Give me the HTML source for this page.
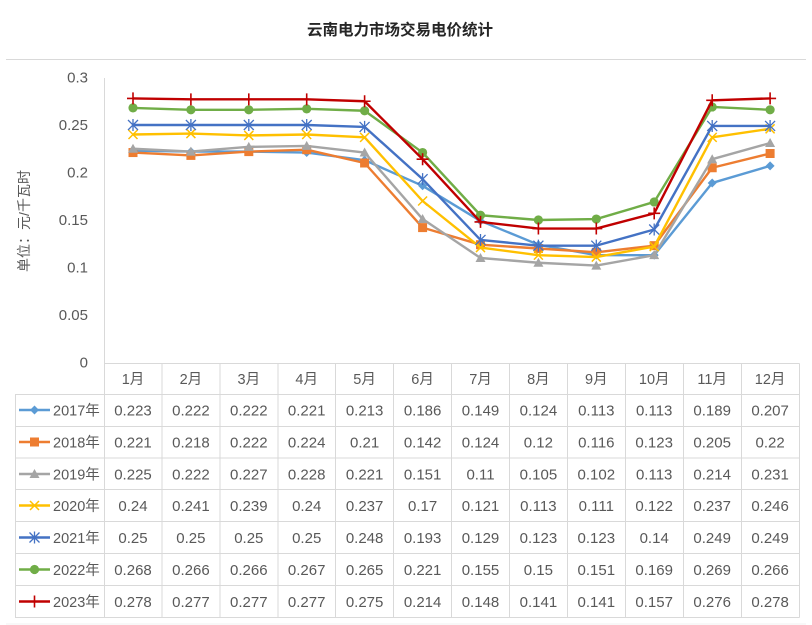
<!DOCTYPE html>
<html>
<head>
<meta charset="utf-8">
<style>
html,body{margin:0;padding:0;background:#fff;}
svg{display:block;}
text{font-family:"Liberation Sans","Noto Sans CJK SC",sans-serif;}
</style>
</head>
<body>
<svg width="812" height="625" viewBox="0 0 812 625" xmlns="http://www.w3.org/2000/svg">
<defs>
  <path id="mDia" d="M0,-4.5 L4.5,0 L0,4.5 L-4.5,0Z" fill="#5B9BD5"/>
  <rect id="mSq" x="-4.5" y="-4.5" width="9" height="9" fill="#ED7D31"/>
  <path id="mTri" d="M0,-5 L5,4 L-5,4Z" fill="#A5A5A5"/>
  <path id="mX" d="M-4.5,-4.5 L4.5,4.5 M4.5,-4.5 L-4.5,4.5" stroke="#FFC000" stroke-width="1.5" fill="none"/>
  <path id="mStar" d="M-5,-5 L5,5 M5,-5 L-5,5 M0,-6 L0,6" stroke="#4472C4" stroke-width="1.3" fill="none"/>
  <circle id="mCir" r="4.6" fill="#70AD47"/>
  <path id="mPlus" d="M0,-6 L0,6 M-6,0 L6,0" stroke="#C00000" stroke-width="1.6" fill="none"/>
</defs>

<rect width="812" height="625" fill="#fff"/>

<!-- title -->
<text x="400" y="35" text-anchor="middle" font-size="15.5" font-weight="bold" fill="#262626">云南电力市场交易电价统计</text>
<line x1="6" y1="59.5" x2="806" y2="59.5" stroke="#d9d9d9" stroke-width="1"/>

<!-- y axis title -->
<text transform="translate(29,221) rotate(-90)" text-anchor="middle" font-size="14" fill="#595959">单位：元/千瓦时</text>

<!-- y tick labels -->
<g font-size="15" fill="#595959" text-anchor="end">
  <text x="88" y="82.5">0.3</text>
  <text x="88" y="130">0.25</text>
  <text x="88" y="177.5">0.2</text>
  <text x="88" y="225">0.15</text>
  <text x="88" y="272.5">0.1</text>
  <text x="88" y="320">0.05</text>
  <text x="88" y="367.5">0</text>
</g>

<!-- axis line -->
<line x1="104.5" y1="78" x2="104.5" y2="617" stroke="#d9d9d9" stroke-width="1"/>

<!-- table grid -->
<g stroke="#d9d9d9" stroke-width="1" fill="none">
  <line x1="104" y1="363.5" x2="799.5" y2="363.5"/>
  <line x1="15" y1="394.5" x2="799.5" y2="394.5"/>
  <line x1="15" y1="426.5" x2="799.5" y2="426.5"/>
  <line x1="15" y1="458" x2="799.5" y2="458"/>
  <line x1="15" y1="489.5" x2="799.5" y2="489.5"/>
  <line x1="15" y1="521.5" x2="799.5" y2="521.5"/>
  <line x1="15" y1="553.5" x2="799.5" y2="553.5"/>
  <line x1="15" y1="585.5" x2="799.5" y2="585.5"/>
  <line x1="15" y1="617.5" x2="799.5" y2="617.5"/>
  <line x1="15.5" y1="394.5" x2="15.5" y2="617.5"/>
  <line x1="162" y1="363.5" x2="162" y2="617.5"/>
  <line x1="220" y1="363.5" x2="220" y2="617.5"/>
  <line x1="278" y1="363.5" x2="278" y2="617.5"/>
  <line x1="335.5" y1="363.5" x2="335.5" y2="617.5"/>
  <line x1="393.5" y1="363.5" x2="393.5" y2="617.5"/>
  <line x1="451.5" y1="363.5" x2="451.5" y2="617.5"/>
  <line x1="509.5" y1="363.5" x2="509.5" y2="617.5"/>
  <line x1="567.5" y1="363.5" x2="567.5" y2="617.5"/>
  <line x1="625.5" y1="363.5" x2="625.5" y2="617.5"/>
  <line x1="683.5" y1="363.5" x2="683.5" y2="617.5"/>
  <line x1="741.5" y1="363.5" x2="741.5" y2="617.5"/>
  <line x1="799.5" y1="363.5" x2="799.5" y2="617.5"/>
</g>
<line x1="6" y1="624" x2="806" y2="624" stroke="#f0f0f0" stroke-width="1"/>

<!-- header -->
<g font-size="14.5" fill="#595959" text-anchor="middle">
  <text x="133" y="384">1月</text>
  <text x="190.9" y="384">2月</text>
  <text x="248.8" y="384">3月</text>
  <text x="306.7" y="384">4月</text>
  <text x="364.6" y="384">5月</text>
  <text x="422.6" y="384">6月</text>
  <text x="480.5" y="384">7月</text>
  <text x="538.4" y="384">8月</text>
  <text x="596.3" y="384">9月</text>
  <text x="654.2" y="384">10月</text>
  <text x="712.2" y="384">11月</text>
  <text x="770.1" y="384">12月</text>
</g>

<!-- series lines -->
<g fill="none" stroke-width="2.4" stroke-linejoin="round">
  <polyline stroke="#5B9BD5" points="133,150.65 190.9,151.6 248.8,151.6 306.7,152.55 364.6,160.15 422.6,185.8 480.5,220.95 538.4,244.7 596.3,255.15 654.2,255.15 712.2,182.95 770.1,165.85"/>
</g>
<g>
  <use href="#mDia" x="133" y="150.65"/><use href="#mDia" x="190.9" y="151.6"/><use href="#mDia" x="248.8" y="151.6"/><use href="#mDia" x="306.7" y="152.55"/><use href="#mDia" x="364.6" y="160.15"/><use href="#mDia" x="422.6" y="185.8"/><use href="#mDia" x="480.5" y="220.95"/><use href="#mDia" x="538.4" y="244.7"/><use href="#mDia" x="596.3" y="255.15"/><use href="#mDia" x="654.2" y="255.15"/><use href="#mDia" x="712.2" y="182.95"/><use href="#mDia" x="770.1" y="165.85"/>
</g>

<polyline fill="none" stroke-width="2.4" stroke-linejoin="round" stroke="#ED7D31" points="133,152.55 190.9,155.4 248.8,151.6 306.7,149.7 364.6,163 422.6,227.6 480.5,244.7 538.4,248.5 596.3,252.3 654.2,245.65 712.2,167.75 770.1,153.5"/>
<g>
  <use href="#mSq" x="133" y="152.55"/><use href="#mSq" x="190.9" y="155.4"/><use href="#mSq" x="248.8" y="151.6"/><use href="#mSq" x="306.7" y="149.7"/><use href="#mSq" x="364.6" y="163"/><use href="#mSq" x="422.6" y="227.6"/><use href="#mSq" x="480.5" y="244.7"/><use href="#mSq" x="538.4" y="248.5"/><use href="#mSq" x="596.3" y="252.3"/><use href="#mSq" x="654.2" y="245.65"/><use href="#mSq" x="712.2" y="167.75"/><use href="#mSq" x="770.1" y="153.5"/>
</g>

<polyline fill="none" stroke-width="2.4" stroke-linejoin="round" stroke="#A5A5A5" points="133,148.75 190.9,151.6 248.8,146.85 306.7,145.9 364.6,152.55 422.6,219.05 480.5,258 538.4,262.75 596.3,265.6 654.2,255.15 712.2,159.2 770.1,143.05"/>
<g>
  <use href="#mTri" x="133" y="148.75"/><use href="#mTri" x="190.9" y="151.6"/><use href="#mTri" x="248.8" y="146.85"/><use href="#mTri" x="306.7" y="145.9"/><use href="#mTri" x="364.6" y="152.55"/><use href="#mTri" x="422.6" y="219.05"/><use href="#mTri" x="480.5" y="258"/><use href="#mTri" x="538.4" y="262.75"/><use href="#mTri" x="596.3" y="265.6"/><use href="#mTri" x="654.2" y="255.15"/><use href="#mTri" x="712.2" y="159.2"/><use href="#mTri" x="770.1" y="143.05"/>
</g>

<polyline fill="none" stroke-width="2.4" stroke-linejoin="round" stroke="#FFC000" points="133,134.5 190.9,133.55 248.8,135.45 306.7,134.5 364.6,137.35 422.6,201 480.5,247.55 538.4,255.15 596.3,257.05 654.2,246.6 712.2,137.35 770.1,128.8"/>
<g>
  <use href="#mX" x="133" y="134.5"/><use href="#mX" x="190.9" y="133.55"/><use href="#mX" x="248.8" y="135.45"/><use href="#mX" x="306.7" y="134.5"/><use href="#mX" x="364.6" y="137.35"/><use href="#mX" x="422.6" y="201"/><use href="#mX" x="480.5" y="247.55"/><use href="#mX" x="538.4" y="255.15"/><use href="#mX" x="596.3" y="257.05"/><use href="#mX" x="654.2" y="246.6"/><use href="#mX" x="712.2" y="137.35"/><use href="#mX" x="770.1" y="128.8"/>
</g>

<polyline fill="none" stroke-width="2.4" stroke-linejoin="round" stroke="#4472C4" points="133,125 190.9,125 248.8,125 306.7,125 364.6,126.9 422.6,179.15 480.5,239.95 538.4,245.65 596.3,245.65 654.2,229.5 712.2,125.95 770.1,125.95"/>
<g>
  <use href="#mStar" x="133" y="125"/><use href="#mStar" x="190.9" y="125"/><use href="#mStar" x="248.8" y="125"/><use href="#mStar" x="306.7" y="125"/><use href="#mStar" x="364.6" y="126.9"/><use href="#mStar" x="422.6" y="179.15"/><use href="#mStar" x="480.5" y="239.95"/><use href="#mStar" x="538.4" y="245.65"/><use href="#mStar" x="596.3" y="245.65"/><use href="#mStar" x="654.2" y="229.5"/><use href="#mStar" x="712.2" y="125.95"/><use href="#mStar" x="770.1" y="125.95"/>
</g>

<polyline fill="none" stroke-width="2.4" stroke-linejoin="round" stroke="#70AD47" points="133,107.9 190.9,109.8 248.8,109.8 306.7,108.85 364.6,110.75 422.6,152.55 480.5,215.25 538.4,220 596.3,219.05 654.2,201.95 712.2,106.95 770.1,109.8"/>
<g>
  <use href="#mCir" x="133" y="107.9"/><use href="#mCir" x="190.9" y="109.8"/><use href="#mCir" x="248.8" y="109.8"/><use href="#mCir" x="306.7" y="108.85"/><use href="#mCir" x="364.6" y="110.75"/><use href="#mCir" x="422.6" y="152.55"/><use href="#mCir" x="480.5" y="215.25"/><use href="#mCir" x="538.4" y="220"/><use href="#mCir" x="596.3" y="219.05"/><use href="#mCir" x="654.2" y="201.95"/><use href="#mCir" x="712.2" y="106.95"/><use href="#mCir" x="770.1" y="109.8"/>
</g>

<polyline fill="none" stroke-width="2.4" stroke-linejoin="round" stroke="#C00000" points="133,98.4 190.9,99.35 248.8,99.35 306.7,99.35 364.6,101.25 422.6,159.2 480.5,221.9 538.4,228.55 596.3,228.55 654.2,213.35 712.2,100.3 770.1,98.4"/>
<g>
  <use href="#mPlus" x="133" y="98.4"/><use href="#mPlus" x="190.9" y="99.35"/><use href="#mPlus" x="248.8" y="99.35"/><use href="#mPlus" x="306.7" y="99.35"/><use href="#mPlus" x="364.6" y="101.25"/><use href="#mPlus" x="422.6" y="159.2"/><use href="#mPlus" x="480.5" y="221.9"/><use href="#mPlus" x="538.4" y="228.55"/><use href="#mPlus" x="596.3" y="228.55"/><use href="#mPlus" x="654.2" y="213.35"/><use href="#mPlus" x="712.2" y="100.3"/><use href="#mPlus" x="770.1" y="98.4"/>
</g>

<!-- legend keys -->
<g stroke-width="2.4">
  <line x1="19" y1="410" x2="50" y2="410" stroke="#5B9BD5"/>
  <line x1="19" y1="442" x2="50" y2="442" stroke="#ED7D31"/>
  <line x1="19" y1="474" x2="50" y2="474" stroke="#A5A5A5"/>
  <line x1="19" y1="505.5" x2="50" y2="505.5" stroke="#FFC000"/>
  <line x1="19" y1="537.5" x2="50" y2="537.5" stroke="#4472C4"/>
  <line x1="19" y1="569.5" x2="50" y2="569.5" stroke="#70AD47"/>
  <line x1="19" y1="601.5" x2="50" y2="601.5" stroke="#C00000"/>
</g>
<use href="#mDia" x="34.5" y="410"/>
<use href="#mSq" x="34.5" y="442"/>
<use href="#mTri" x="34.5" y="474"/>
<use href="#mX" x="34.5" y="505.5"/>
<use href="#mStar" x="34.5" y="537.5"/>
<use href="#mCir" x="34.5" y="569.5"/>
<use href="#mPlus" x="34.5" y="601.5"/>

<g font-size="14.5" fill="#595959">
  <text x="53" y="415.5">2017年</text>
  <text x="53" y="447.5">2018年</text>
  <text x="53" y="479.5">2019年</text>
  <text x="53" y="511">2020年</text>
  <text x="53" y="543">2021年</text>
  <text x="53" y="575">2022年</text>
  <text x="53" y="607">2023年</text>
</g>

<!-- table values -->
<g font-size="15" fill="#595959" text-anchor="middle">
  <g transform="translate(0,415.5)">
    <text x="133">0.223</text><text x="190.9">0.222</text><text x="248.8">0.222</text><text x="306.7">0.221</text><text x="364.6">0.213</text><text x="422.6">0.186</text><text x="480.5">0.149</text><text x="538.4">0.124</text><text x="596.3">0.113</text><text x="654.2">0.113</text><text x="712.2">0.189</text><text x="770.1">0.207</text>
  </g>
  <g transform="translate(0,447.5)">
    <text x="133">0.221</text><text x="190.9">0.218</text><text x="248.8">0.222</text><text x="306.7">0.224</text><text x="364.6">0.21</text><text x="422.6">0.142</text><text x="480.5">0.124</text><text x="538.4">0.12</text><text x="596.3">0.116</text><text x="654.2">0.123</text><text x="712.2">0.205</text><text x="770.1">0.22</text>
  </g>
  <g transform="translate(0,479.5)">
    <text x="133">0.225</text><text x="190.9">0.222</text><text x="248.8">0.227</text><text x="306.7">0.228</text><text x="364.6">0.221</text><text x="422.6">0.151</text><text x="480.5">0.11</text><text x="538.4">0.105</text><text x="596.3">0.102</text><text x="654.2">0.113</text><text x="712.2">0.214</text><text x="770.1">0.231</text>
  </g>
  <g transform="translate(0,511)">
    <text x="133">0.24</text><text x="190.9">0.241</text><text x="248.8">0.239</text><text x="306.7">0.24</text><text x="364.6">0.237</text><text x="422.6">0.17</text><text x="480.5">0.121</text><text x="538.4">0.113</text><text x="596.3">0.111</text><text x="654.2">0.122</text><text x="712.2">0.237</text><text x="770.1">0.246</text>
  </g>
  <g transform="translate(0,543)">
    <text x="133">0.25</text><text x="190.9">0.25</text><text x="248.8">0.25</text><text x="306.7">0.25</text><text x="364.6">0.248</text><text x="422.6">0.193</text><text x="480.5">0.129</text><text x="538.4">0.123</text><text x="596.3">0.123</text><text x="654.2">0.14</text><text x="712.2">0.249</text><text x="770.1">0.249</text>
  </g>
  <g transform="translate(0,575)">
    <text x="133">0.268</text><text x="190.9">0.266</text><text x="248.8">0.266</text><text x="306.7">0.267</text><text x="364.6">0.265</text><text x="422.6">0.221</text><text x="480.5">0.155</text><text x="538.4">0.15</text><text x="596.3">0.151</text><text x="654.2">0.169</text><text x="712.2">0.269</text><text x="770.1">0.266</text>
  </g>
  <g transform="translate(0,607)">
    <text x="133">0.278</text><text x="190.9">0.277</text><text x="248.8">0.277</text><text x="306.7">0.277</text><text x="364.6">0.275</text><text x="422.6">0.214</text><text x="480.5">0.148</text><text x="538.4">0.141</text><text x="596.3">0.141</text><text x="654.2">0.157</text><text x="712.2">0.276</text><text x="770.1">0.278</text>
  </g>
</g>
</svg>
</body>
</html>
